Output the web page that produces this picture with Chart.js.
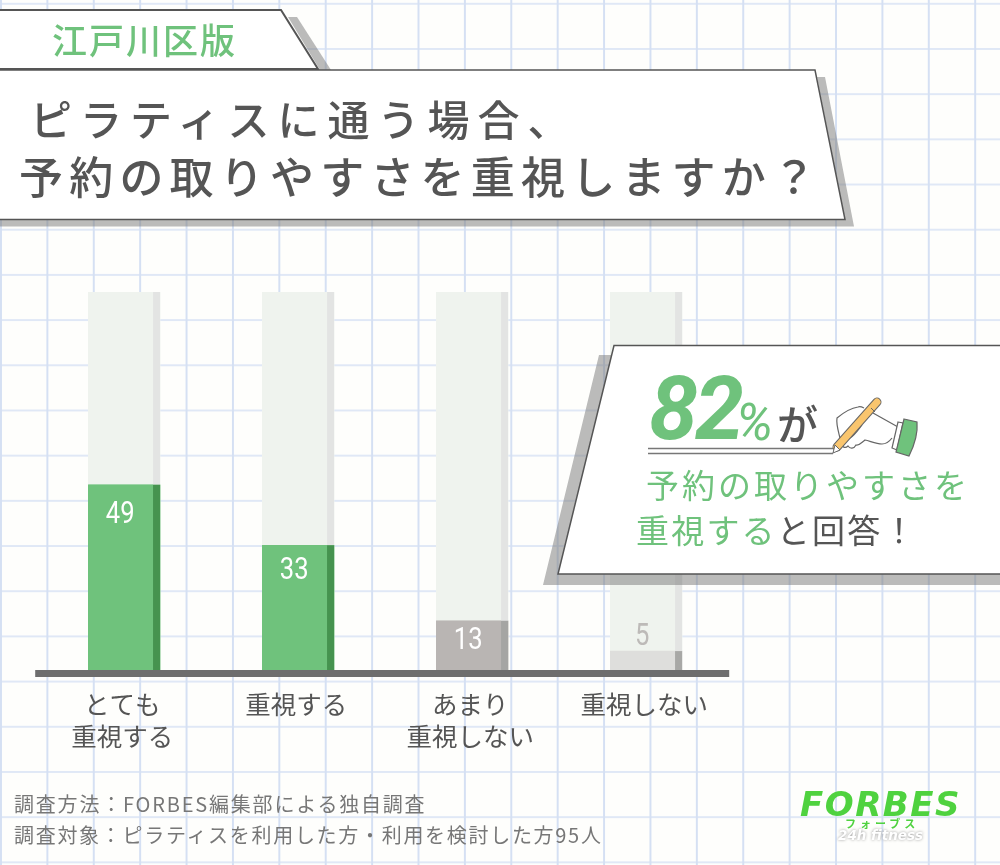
<!DOCTYPE html>
<html lang="ja">
<head>
<meta charset="utf-8">
<title>江戸川区版 ピラティス 予約の取りやすさ</title>
<script src="https://cdn.jsdelivr.net/npm/chart.js@4"></script>
<style>
html, body { margin: 0; padding: 0; }
body {
  width: 1000px; height: 865px; overflow: hidden; position: relative;
  font-family: "Noto Sans CJK JP", sans-serif; color: #555;
  background-color: #fefefc;
  background-image:
    linear-gradient(to right, #d5e0f3 1.5px, transparent 1.5px),
    linear-gradient(to bottom, #e0e8f6 1.5px, transparent 1.5px);
  background-size: 46.4px 45.2px;
  background-position: 0 2.8px;
}
#wrap { position: absolute; left: 0; top: 0; width: 1000px; height: 865px; }
canvas { display: block; }
svg { position: absolute; left: 0; top: 0; }
.t { position: absolute; white-space: nowrap; line-height: 1; }
.g { color: #6fc27c; }
</style>
</head>
<body>
<div id="wrap"><canvas id="chart" width="1000" height="865"></canvas></div>

<svg width="1000" height="865" viewBox="0 0 1000 865">
  <!-- tab -->
  <polygon points="288,17 297,17 331,70 320,70" fill="#777" fill-opacity=".5"/>
  <polygon points="-3,10 281,10 318,69 -3,69" fill="#fff" stroke="#555" stroke-width="2"/>
  <!-- title panel -->
  <polygon points="817,77 825,77 854,226.5 -3,226.5 -3,219 845,219" fill="#777" fill-opacity=".5"/>
  <polygon points="-3,70 815,70 845,219.5 -3,219.5" fill="#fff" stroke="#555" stroke-width="1.5"/>
  <!-- callout -->
  <polygon points="599,355 612,355 558,574 1003,574 1003,585 543,585" fill="#777" fill-opacity=".5"/>
  <polygon points="614,345.5 1003,345.5 1003,574 558,574" fill="#fff" stroke="#555" stroke-width="1.5"/>
  <!-- underline -->
  <path d="M648,448.5H833M648,453.5H833" stroke="#777" stroke-width="1.3" fill="none"/>
  <!-- hand and pen -->
  <path d="M840,438 C838,430 836,424 837,418 C843,413 851,408 858,407 C860,406 862,407 864,408 M873,413 L898,427 M892,438 C889,442 886,444 882,444 C876,444 870,441 865,440 C861,443 859,446 856,445 C854,449 850,449 848,446 C845,449 842,447 841,443" fill="#fff" stroke="#666" stroke-width="1.2"/>
  <path d="M845,436 C850,432 852,425 857,421 M862,425 C858,430 854,436 850,438" fill="none" stroke="#666" stroke-width="1.2"/>
  <path d="M837,447 L877,402" stroke="#666" stroke-width="9" stroke-linecap="round"/>
  <path d="M837,447 L877,402" stroke="#f9c56e" stroke-width="7" stroke-linecap="round"/>
  <path d="M871,408 L875,412" stroke="#666" stroke-width="1"/>
  <path d="M833,453 L835,445 L840,450 Z" fill="#fff" stroke="#666" stroke-width="1"/>
  <polygon points="898,422 903,423 897,450 892,448" fill="#fff" stroke="#666" stroke-width="1.2"/>
  <path d="M904,419 L917,422 C918,433 914,446 909,456 L896,452 Z" fill="#6fc27c" stroke="#666" stroke-width="1.2"/>
</svg>

<div class="t g" style="left:52px;top:21px;font-size:35px;letter-spacing:2px;font-weight:500">江戸川区版</div>
<div class="t" style="left:30px;top:97px;font-size:42px;letter-spacing:8px;font-weight:500">ピラティスに通う場合、</div>
<div class="t" style="left:19px;top:153px;font-size:44px;letter-spacing:6.2px;font-weight:500">予約の取りやすさを重視しますか？</div>

<div class="t g" style="left:649px;top:365px;font-family:Roboto;font-size:88px;font-weight:700;font-style:italic;letter-spacing:-3px">82</div>
<div class="t g" style="left:736px;top:397px;font-family:Roboto;font-size:52px;font-weight:400;font-style:italic">%</div>
<div class="t" style="left:777px;top:402px;font-size:41px;font-weight:500">が</div>
<div class="t g" style="left:646px;top:468px;font-size:33px;letter-spacing:3px">予約の取りやすさを</div>
<div class="t" style="left:636px;top:513px;font-size:33px;letter-spacing:2.2px"><span class="g">重視する</span>と回答！</div>

<div class="t" style="left:14px;top:794px;font-size:20px;letter-spacing:1.8px;color:#777">調査方法：FORBES編集部による独自調査</div>
<div class="t" style="left:14px;top:825px;font-size:20px;letter-spacing:1.7px;color:#777">調査対象：ピラティスを利用した方・利用を検討した方95人</div>

<div class="t" style="left:800px;top:787px;font-family:'DejaVu Sans';font-size:34px;font-weight:700;font-style:italic;letter-spacing:1.5px;color:#4fd23f">FORBES</div>
<div class="t" style="left:845px;top:818px;font-size:11px;font-weight:700;letter-spacing:4px;color:#4fd23f">フォーブス</div>
<div class="t" style="left:838px;top:829px;font-family:'DejaVu Sans';font-size:13.5px;font-weight:700;font-style:italic;color:#fff;text-shadow:0 0 3px #999">24h fitness</div>

<script>
const categories = [['とても', '重視する'], '重視する', ['あまり', '重視しない'], '重視しない'];
const percentValues = [49, 33, 13, 5];
const trackValues = [100, 100, 100, 100];
const barColors = ['#6fc27c', '#6fc27c', '#b9b5b3', '#dededc'];
const sideColors = ['#46934f', '#46934f', '#a5a5a3', '#a8a8a6'];
const trackColor = '#eff3ee';
const trackSide = '#e3e4e3';

// dark strip down the right of each bar, and the values
const barDecor = {
  id: 'barDecor',
  afterDatasetsDraw(chart) {
    const { ctx } = chart;
    const side = 7;
    const track = chart.getDatasetMeta(1).data;
    const bars = chart.getDatasetMeta(0).data;
    ctx.save();
    track.forEach(b => {
      ctx.fillStyle = trackSide;
      ctx.fillRect(b.x + b.width / 2 - side, b.y, side, b.base - b.y);
    });
    // the track strip covers the value bars, so put those on top again
    bars.forEach((b, i) => {
      ctx.fillStyle = barColors[i];
      ctx.fillRect(b.x - b.width / 2, b.y, b.width, b.base - b.y);
      ctx.fillStyle = sideColors[i];
      ctx.fillRect(b.x + b.width / 2 - side, b.y, side, b.base - b.y);
    });
    ctx.textAlign = 'center';
    ctx.textBaseline = 'middle';
    ctx.font = '400 32px Roboto';
    bars.forEach((b, i) => {
      const v = percentValues[i];
      const inside = v >= 10;
      ctx.fillStyle = inside ? '#fff' : '#bdbab8';
      // the digits in the picture are narrow
      ctx.save();
      ctx.translate(b.x - 4, inside ? b.y + 17 + v * 0.27 : b.y - 14);
      ctx.scale(0.8, 1);
      ctx.fillText(String(v), 0, 0);
      ctx.restore();
    });
    // baseline
    const sx = chart.scales.x, sy = chart.scales.y;
    ctx.fillStyle = '#6e6e6e';
    ctx.fillRect(sx.left - 2, sy.bottom, sx.width - 2, 7);
    ctx.restore();
  }
};

new Chart(document.getElementById('chart'), {
  type: 'bar',
  data: {
    labels: categories,
    datasets: [
      { data: percentValues, backgroundColor: barColors, grouped: false, barThickness: 71.7, order: 1 },
      { data: trackValues, backgroundColor: trackColor, grouped: false, barThickness: 71.7, order: 2 }
    ]
  },
  options: {
    responsive: false,
    animation: false,
    layout: { padding: { left: 37.2, right: 266.8, top: 292, bottom: 0 } },
    plugins: { legend: { display: false }, tooltip: { enabled: false } },
    scales: {
      y: { display: false, min: 0, max: 100 },
      x: {
        grid: { display: false },
        border: { display: false },
        afterFit(s) { s.height = 195; },
        ticks: {
          color: '#555',
          padding: 10,
          labelOffset: -2,
          maxRotation: 0,
          autoSkip: false,
          font: { family: '"Noto Sans CJK JP"', size: 25.5, lineHeight: 1.26 }
        }
      }
    }
  },
  plugins: [barDecor]
});
</script>
</body>
</html>
